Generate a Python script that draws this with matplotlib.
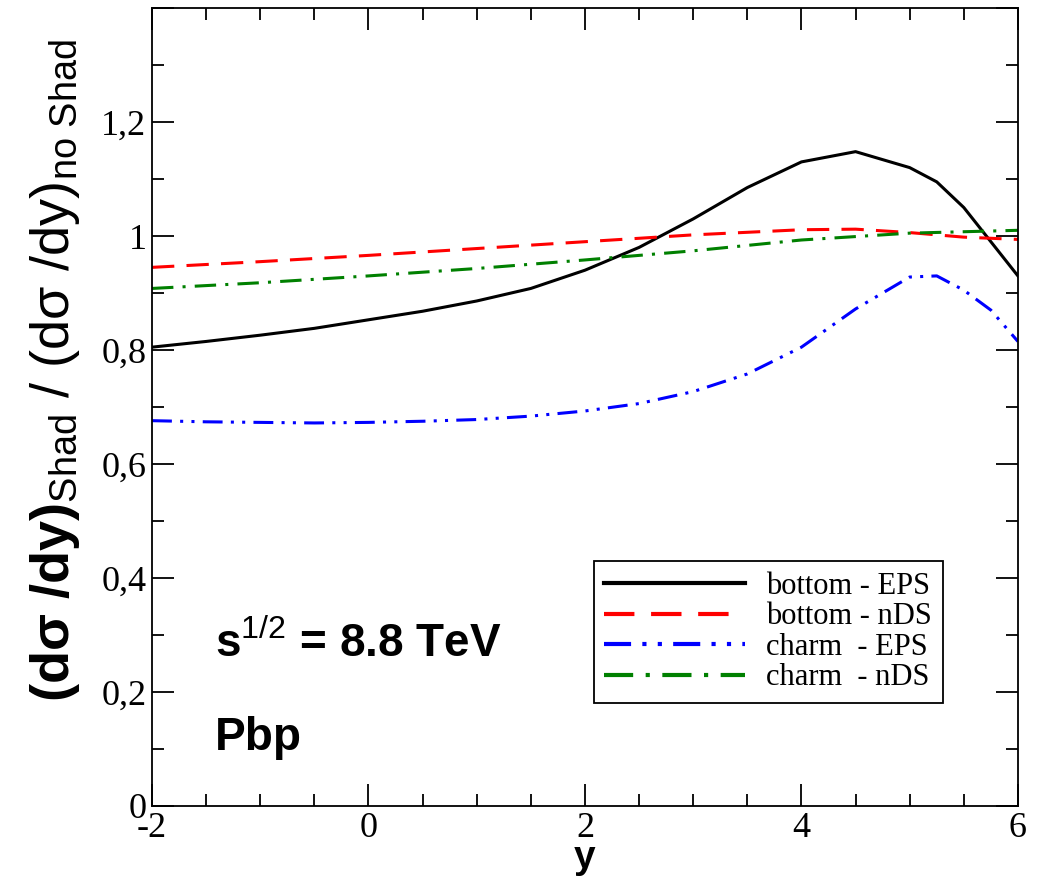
import matplotlib
matplotlib.use("Agg")
import matplotlib.pyplot as plt
from matplotlib.ticker import MultipleLocator, FixedLocator, FuncFormatter

# rapidite
y_bot_eps = [-2, -1.5, -1, -0.5, 0, 0.5, 1, 1.5, 2, 2.5, 3, 3.5, 4, 4.5, 5, 5.25, 5.5, 5.75, 6]
r_bot_eps = [0.805, 0.815, 0.826, 0.838, 0.853, 0.868, 0.886, 0.908, 0.94, 0.98, 1.03, 1.085,
             1.13, 1.148, 1.12, 1.095, 1.05, 0.99, 0.93]

y_bot_nds = [-2, -1, 0, 1, 2, 3, 4, 4.5, 5, 5.5, 6]
r_bot_nds = [0.945, 0.955, 0.966, 0.978, 0.99, 1.002, 1.011, 1.012, 1.006, 0.998, 0.994]

y_ch_eps = [-2, -1.5, -1, -0.5, 0, 0.5, 1, 1.5, 2, 2.5, 3, 3.5, 4, 4.5, 5, 5.25, 5.5, 5.75, 6]
r_ch_eps = [0.676, 0.674, 0.673, 0.672, 0.673, 0.675, 0.678, 0.684, 0.693, 0.706, 0.727, 0.758,
            0.805, 0.872, 0.928, 0.93, 0.905, 0.87, 0.815]

y_ch_nds = [-2, -1, 0, 1, 2, 3, 4, 5, 6]
r_ch_nds = [0.908, 0.918, 0.93, 0.943, 0.958, 0.974, 0.993, 1.005, 1.01]

labels = ["bottom - EPS", "bottom - nDS", "charm  - EPS", "charm  - nDS"]

plt.rcParams['mathtext.fontset'] = 'custom'
plt.rcParams['mathtext.rm'] = 'Liberation Sans'
plt.rcParams['mathtext.bf'] = 'Liberation Sans:bold'
plt.rcParams['mathtext.it'] = 'Liberation Sans'

fig = plt.figure(figsize=(10.37, 8.9), dpi=100)
ax = fig.add_axes([0.1466, 0.0944, 0.835, 0.8966])

lw = 2.2
ax.plot(y_bot_eps, r_bot_eps, color='black', lw=lw, label=labels[0])
ax.plot(y_bot_nds, r_bot_nds, color='red', lw=lw, dashes=(7.3, 4), label=labels[1])
ax.plot(y_ch_eps, r_ch_eps, color='blue', lw=lw, dashes=(6.5, 2.7, 1, 2.7, 1, 2.7), label=labels[2])
ax.plot(y_ch_nds, r_ch_nds, color='green', lw=lw, dashes=(7, 3, 1, 3), label=labels[3])

ax.set_xlim(-2, 6)
ax.set_ylim(0, 1.4)
ax.xaxis.set_major_locator(MultipleLocator(2))
ax.xaxis.set_minor_locator(MultipleLocator(0.5))
ax.yaxis.set_major_locator(FixedLocator([0, 0.2, 0.4, 0.6, 0.8, 1.0, 1.2, 1.4]))
ax.yaxis.set_minor_locator(MultipleLocator(0.1))

def fmt(v, pos):
    if abs(v - 1.4) < 1e-6:
        return ""
    s = ("%g" % round(v, 2)).replace(".", ",")
    return s
ax.yaxis.set_major_formatter(FuncFormatter(fmt))
ax.xaxis.set_major_formatter(FuncFormatter(lambda v, p: "%d" % v))

ax.tick_params(which='both', direction='in', top=True, right=True, width=1.3,
               labelsize=26)
ax.tick_params(which='major', length=16, pad=4)
ax.tick_params(which='minor', length=8.5)
for lab in ax.get_xticklabels() + ax.get_yticklabels():
    lab.set_family('Liberation Serif')
for sp in ax.spines.values():
    sp.set_linewidth(1.3)

ax.set_xlabel('y', fontsize=28, fontweight='bold', family='Liberation Sans', labelpad=-3)
fig.text(55 / 1037, 1 - 371 / 890,
         r'$\mathbf{(d\sigma\ /dy)}_{\mathrm{Shad}}$ / $\mathrm{(d\sigma\ /dy)}_{\mathrm{no\ Shad}}$',
         fontsize=39, family='Liberation Sans', rotation=90, ha='center', va='center')

ax.text(-1.42, 0.261, r'$\mathbf{s}^{\mathrm{1/2}}$ = 8.8 TeV', fontsize=33, fontweight='bold',
        family='Liberation Sans', va='baseline')
ax.text(-1.42, 0.098, 'Pbp', fontsize=33, fontweight='bold', family='Liberation Sans',
        va='baseline')

leg = ax.legend(loc='lower right', bbox_to_anchor=(0.913, 0.129), fancybox=False,
                framealpha=1, edgecolor='black', handlelength=4.6, handletextpad=0.7,
                prop={'family': 'Liberation Serif', 'size': 22}, labelspacing=0.05,
                borderpad=0.35, borderaxespad=0)
leg.get_frame().set_linewidth(1.3)
for l in leg.get_lines():
    l.set_linewidth(3.0)

fig.savefig('out.png', dpi=100)
